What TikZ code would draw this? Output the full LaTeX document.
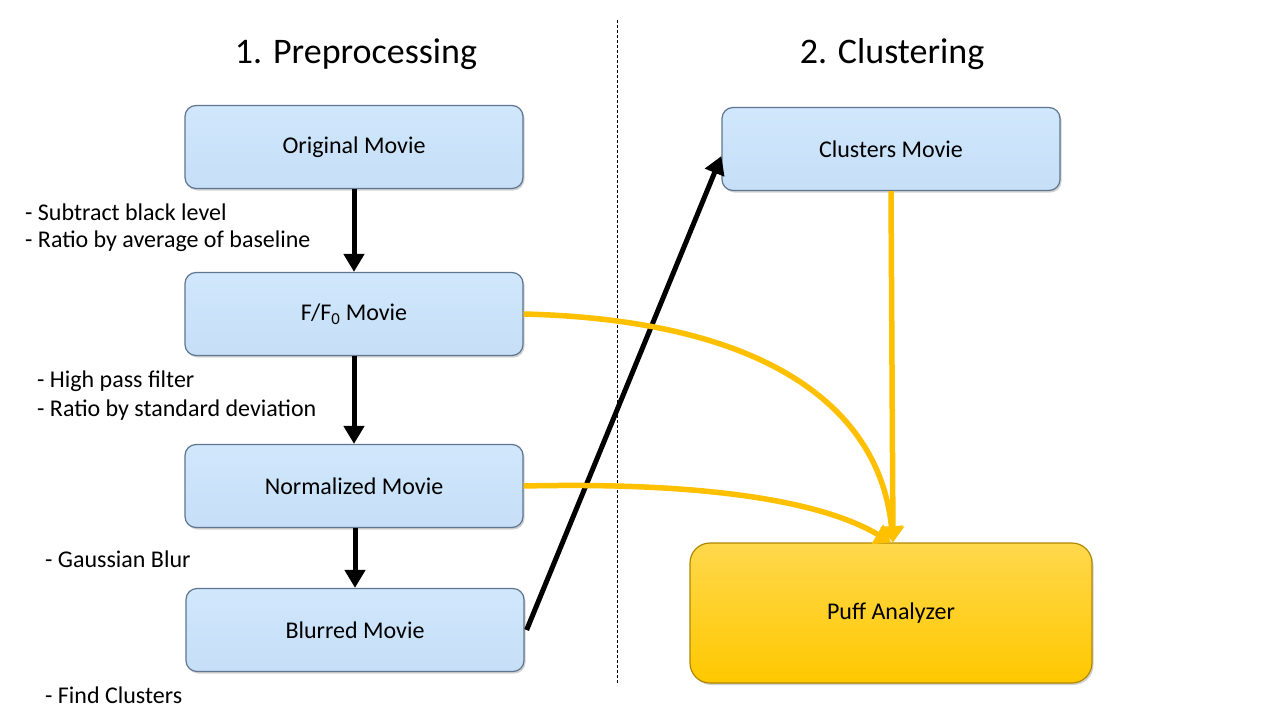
\documentclass[tikz,border=0pt]{standalone}
\usepackage{fontspec}
\setmainfont{Carlito}
\usetikzlibrary{arrows.meta,shadows}
\definecolor{boxblueT}{HTML}{D0E7FC}
\definecolor{boxblueB}{HTML}{C6DFF7}
\definecolor{boxedge}{HTML}{5F7590}
\definecolor{gold}{HTML}{FFC000}
\definecolor{goldT}{HTML}{FFD84C}
\definecolor{goldB}{HTML}{FFC800}
\definecolor{goldedge}{HTML}{B08800}
\tikzset{
  bluebox/.style={draw=boxedge, line width=1.2pt, rounded corners=11pt,
    top color=boxblueT, bottom color=boxblueB,
    minimum width=338pt, minimum height=83pt, inner sep=0pt,
    font=\fontsize{24}{28}\selectfont,
    drop shadow={shadow xshift=1.5pt, shadow yshift=-2pt, opacity=0.35}},
  puffbox/.style={draw=goldedge, line width=1.2pt, rounded corners=20pt,
    top color=goldT, bottom color=goldB,
    minimum width=402pt, minimum height=140pt, inner sep=0pt,
    font=\fontsize{24}{28}\selectfont,
    drop shadow={shadow xshift=1.5pt, shadow yshift=-2pt, opacity=0.35}},
  title/.style={font=\fontsize{36}{42}\selectfont, inner sep=0pt},
  note/.style={font=\fontsize{24}{28}\selectfont, anchor=west, inner sep=0pt},
  blackarrow/.style={line width=5pt, -{Triangle[width=20pt,length=18pt]}},
  goldarrow/.style={draw=gold, line width=5.5pt, -{Triangle[width=22pt,length=16pt]}},
}
\begin{document}
\begin{tikzpicture}[x=1pt,y=-1pt]
\useasboundingbox[fill=white] (0,0) rectangle (1280,720);

\node[title] (t1) at (356,54) {1. Preprocessing};
\node[title] (t2) at (892,54) {2. Clustering};

\coordinate (dtop) at (617,20);
\coordinate (dbot) at (617,685);
\draw[line width=0.8pt, dash pattern=on 3pt off 2pt] (dtop) -- (dbot);

\node[bluebox] (orig) at (354,147) {\raisebox{-2pt}{Original Movie}};
\node[bluebox] (ff) at (354,314) {\raisebox{-2pt}{F/F\textsubscript{0} Movie}};
\node[bluebox] (norm) at (354,486) {\raisebox{-2pt}{Normalized Movie}};
\node[bluebox] (blur) at (355,630) {\raisebox{-2pt}{Blurred Movie}};
\node[bluebox] (clus) at (891,149) {\raisebox{-2pt}{Clusters Movie}};
\node[puffbox] (puff) at (891,613) {\raisebox{-2pt}{Puff Analyzer}};

\node[note] (n1) at (25,212) {- Subtract black level};
\node[note] (n2) at (25,241) {- Ratio by average of baseline};
\node[note] (n3) at (37,381) {- High pass filter};
\node[note] (n4) at (37,410) {- Ratio by standard deviation};
\node[note] (n5) at (45,559) {- Gaussian Blur};
\node[note] (n6) at (45,695) {- Find Clusters};

\draw[blackarrow] (orig.south) -- (ff.north);
\draw[blackarrow] (ff.south) -- (norm.north);
\draw[blackarrow] ([xshift=1pt]norm.south) -- (blur.north);
\draw[blackarrow] ([xshift=2pt]blur.east) -- ([yshift=-7pt]clus.west);

\draw[goldarrow] (clus.south) -- ([xshift=2pt]puff.north);
\draw[goldarrow] (ff.east) .. controls (770,320) and (880,410) .. ([xshift=2pt]puff.north);
\draw[goldarrow] (norm.east) .. controls (700,482) and (820,500) .. ([xshift=0pt]puff.north);
\end{tikzpicture}
\end{document}
